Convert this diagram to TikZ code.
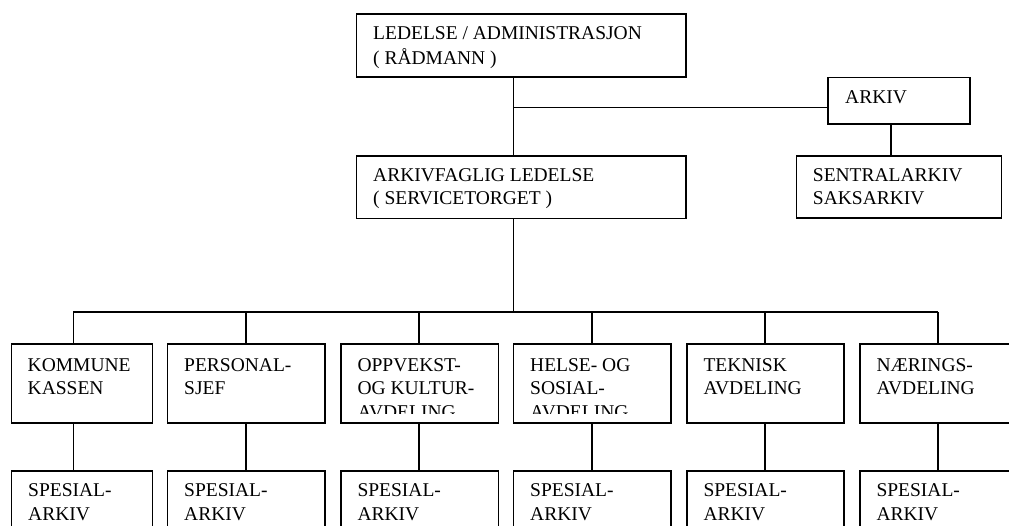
\documentclass[tikz,border=0pt]{standalone}
\usepackage{fontspec}
\setmainfont{Liberation Serif}
\newcommand{\lns}[1]{\begin{tabular}[t]{@{}l@{}}#1\end{tabular}}
\begin{document}
\begin{tikzpicture}[x=1pt,y=-1pt,
  box/.style={draw, line width=1.6pt, inner sep=0pt, anchor=north west},
  conn/.style={line width=1.6pt},
  lbl/.style={anchor=base west, inner sep=0pt, font=\fontsize{19.5}{23.3}\selectfont}]
\clip (0,0) rectangle (1009,526);
% top part
\node[box, minimum width=329.3pt, minimum height=62.7pt] (top) at (355.7,13.3) {};
\node[box, minimum width=141.7pt, minimum height=46.6pt] (arkiv) at (827.3,76.7) {};
\node[box, minimum width=329.3pt, minimum height=62.7pt] (mid) at (355.7,155) {};
\node[box, minimum width=205pt, minimum height=62.3pt] (sent) at (795.7,155) {};
\node[lbl] (ttop) at ([xshift=17.3pt,yshift=-26.7pt]top.north west) {\lns{LEDELSE / ADMINISTRASJON\\[1.4pt] ( RÅDMANN )}};
\node[lbl] (tarkiv) at ([xshift=17.7pt,yshift=-26.6pt]arkiv.north west) {ARKIV};
\node[lbl] (tmid) at ([xshift=17.3pt,yshift=-26.7pt]mid.north west) {\lns{ARKIVFAGLIG LEDELSE\\ ( SERVICETORGET )}};
\node[lbl] (tsent) at ([xshift=17pt,yshift=-26.7pt]sent.north west) {\lns{SENTRALARKIV\\ SAKSARKIV}};
% department row
\node[box, minimum width=141pt, minimum height=79pt] (d1) at (10.7,343.3) {};
\node[box, minimum width=157.3pt, minimum height=79pt] (d2) at (166.7,343.3) {};
\node[box, minimum width=157.7pt, minimum height=79pt] (d3) at (340,343.3) {};
\node[box, minimum width=157.3pt, minimum height=79pt] (d4) at (512.7,343.3) {};
\node[box, minimum width=157.3pt, minimum height=79pt] (d5) at (686,343.3) {};
\node[box, minimum width=157.4pt, minimum height=79pt] (d6) at (859,343.3) {};
% archive row
\node[box, minimum width=141pt, minimum height=90pt] (s1) at (10.7,470) {};
\node[box, minimum width=157.3pt, minimum height=90pt] (s2) at (166.7,470) {};
\node[box, minimum width=157.7pt, minimum height=90pt] (s3) at (340,470) {};
\node[box, minimum width=157.3pt, minimum height=90pt] (s4) at (512.7,470) {};
\node[box, minimum width=157.3pt, minimum height=90pt] (s5) at (686,470) {};
\node[box, minimum width=157.4pt, minimum height=90pt] (s6) at (859,470) {};
% labels
\node[lbl] (t1) at ([xshift=16.8pt,yshift=-27.7pt]d1.north west) {\lns{KOMMUNE\\ KASSEN}};
\node[lbl] (t2) at ([xshift=17.3pt,yshift=-27.7pt]d2.north west) {\lns{PERSONAL-\\ SJEF}};
\begin{scope}
\clip (340,343.3) rectangle (670,413.3);
\node[lbl] (t3) at ([xshift=17.3pt,yshift=-28.2pt]d3.north west) {\lns{OPPVEKST-\\ OG KULTUR-\\ AVDELING}};
\node[lbl] (t4) at ([xshift=17.3pt,yshift=-28.2pt]d4.north west) {\lns{HELSE- OG\\ SOSIAL-\\ AVDELING}};
\end{scope}
\node[lbl] (t5) at ([xshift=17.3pt,yshift=-27.7pt]d5.north west) {\lns{TEKNISK\\ AVDELING}};
\node[lbl] (t6) at ([xshift=17.3pt,yshift=-27.7pt]d6.north west) {\lns{NÆRINGS-\\ AVDELING}};
\foreach \i in {1,...,6}{
  \node[lbl] (u\i) at ([xshift=17.3pt,yshift=-26.7pt]s\i.north west) {\lns{SPESIAL-\\ ARKIV}};
}
% connectors
\coordinate (trunk) at (513.3,0);
\coordinate (jn) at (513.3,107.7);
\coordinate (ak) at (890.7,0);
\coordinate (bus) at (0,312.2);
\coordinate (c1) at (73.3,0);
\coordinate (c2) at (246,0);
\coordinate (c3) at (418.7,0);
\coordinate (c4) at (591.7,0);
\coordinate (c5) at (765,0);
\coordinate (c6) at (937.7,0);
\draw[conn] (top.south -| trunk) -- (mid.north -| trunk);
\draw[conn] (jn) -- (jn -| arkiv.west);
\draw[conn] (arkiv.south -| ak) -- (sent.north -| ak);
\draw[conn] (mid.south -| trunk) -- (bus -| trunk);
\draw[conn] (bus -| c1) -- (bus -| c6);
\foreach \i in {1,...,6}{
  \draw[conn] (bus -| c\i) -- (d\i.north -| c\i);
  \draw[conn] (d\i.south -| c\i) -- (s\i.north -| c\i);
}
\end{tikzpicture}
\end{document}
